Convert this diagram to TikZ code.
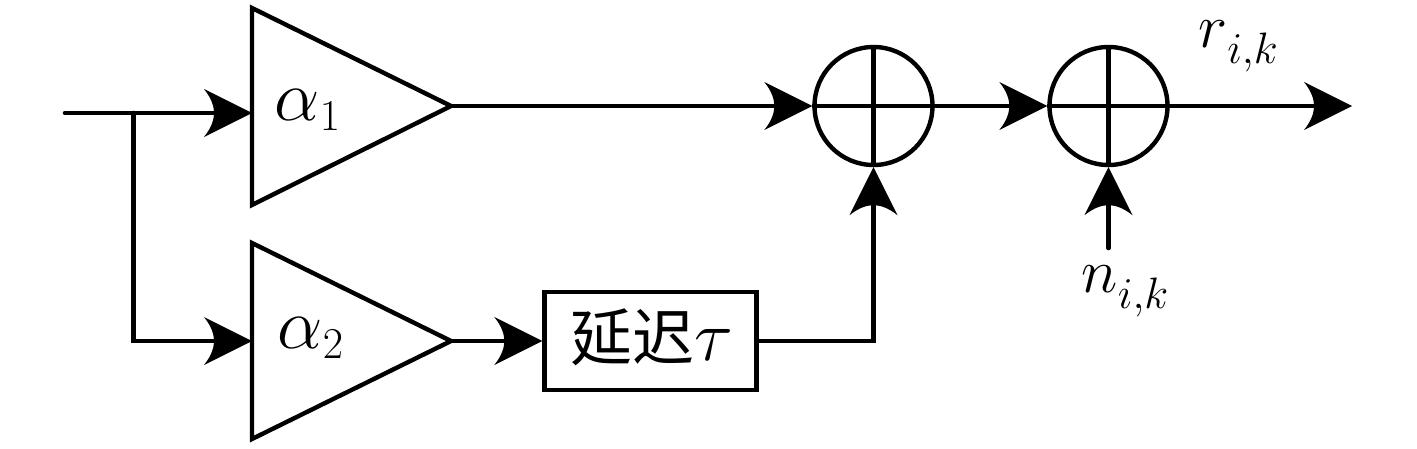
\RequirePackage{fix-cm}
\documentclass[tikz,border=0pt]{standalone}
\usepackage{fontspec}
\newfontfamily\cjk{Noto Sans CJK SC}
\DeclareMathSizes{31}{31}{22}{15}
\DeclareMathSizes{36}{36}{22}{15}
\newcommand\lowsub[1]{\lower8pt\hbox{$\scriptstyle #1$}}
\pgfarrowsdeclare{bighead}{bighead}
{\pgfarrowsleftextend{-5pt}\pgfarrowsrightextend{19pt}}
{
 \pgfsetlinewidth{0pt}
 \pgfpathmoveto{\pgfpoint{19pt}{0pt}}
 \pgfpathlineto{\pgfpoint{-5pt}{12pt}}
 \pgfpathcurveto{\pgfpoint{-1pt}{7pt}}{\pgfpoint{0pt}{3pt}}{\pgfpoint{0pt}{0pt}}
 \pgfpathcurveto{\pgfpoint{0pt}{-3pt}}{\pgfpoint{-1pt}{-7pt}}{\pgfpoint{-5pt}{-12pt}}
 \pgfpathclose
 \pgfusepathqfill
}
\tikzset{
 wire/.style={line width=2.3pt},
 arrowline/.style={wire,line cap=round,-bighead},
 outline/.style={line width=2.2pt,line join=miter},
 lbl/.style={inner sep=0pt,font=\fontsize{36}{36}\selectfont},
 sublbl/.style={inner sep=0pt,font=\fontsize{31}{31}\selectfont}
}
\begin{document}
\begin{tikzpicture}[x=0.5pt,y=-0.5pt]
\useasboundingbox (0,0) rectangle (1417,449);
\coordinate (in) at (65,113);
\coordinate (tap) at (133.5,113);
\coordinate (a1in) at (252,113);
\coordinate (a2in) at (252,341);
\coordinate (a1out) at (451,106);
\coordinate (a2out) at (451,341);
\draw[outline] (252,8) -- (a1out) -- (252,205) -- cycle;
\draw[outline] (252,243) -- (a2out) -- (252,439) -- cycle;
\node[lbl] (a1) at (308,110) {$\alpha_1$};
\node[lbl] (a2) at (311,338) {$\alpha_2$};
\node[draw,outline,minimum width=106pt,minimum height=49pt,inner sep=0pt] (d) at (650.5,341) {};
\node[lbl,anchor=center] (dt) at (652,337) {{\cjk\fontsize{31}{31}\selectfont 延迟}$\tau$};
\node[draw,outline,circle,minimum size=59pt,inner sep=0pt] (s1) at (873.5,106) {};
\node[draw,outline,circle,minimum size=59pt,inner sep=0pt] (s2) at (1108.5,106) {};
\draw[wire] (s1.north) -- (s1.south) (s1.west) -- (s1.east);
\draw[wire] (s2.north) -- (s2.south) (s2.west) -- (s2.east);
\draw[arrowline] (in) -- (a1in);
\draw[arrowline] (tap) |- (a2in);
\draw[arrowline] (a1out) -- (s1.west);
\draw[arrowline] (a2out) -- (d.west);
\draw[arrowline] (d.east) -| (s1.south);
\draw[arrowline] (s1.east) -- (s2.west);
\coordinate (end) at (1352,106);
\draw[arrowline] (s2.east) -- (end);
\coordinate (nin) at (1108.5,248);
\draw[arrowline] (nin) -- (s2.south);
\node[sublbl] (r) at (1238,46) {$r\lowsub{i,k}$};
\node[sublbl] (n) at (1125,291) {$n\lowsub{i,k}$};
\end{tikzpicture}
\end{document}
